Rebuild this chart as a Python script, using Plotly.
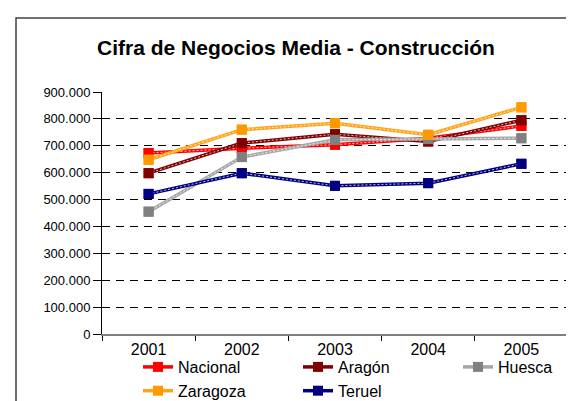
import plotly.graph_objects as go

years = ["2001", "2002", "2003", "2004", "2005"]
nacional = [673000, 691000, 704000, 728000, 774000]
aragon = [598000, 710000, 743000, 716000, 795000]
huesca = [455000, 658000, 722000, 725000, 728000]
zaragoza = [648000, 760000, 784000, 741000, 843000]
teruel = [521000, 598000, 551000, 561000, 633000]

series = [
    ("Nacional", nacional, "#FF0000", "#FF0000", "legend"),
    ("Aragón", aragon, "#800000", "#800000", "legend2"),
    ("Huesca", huesca, "#A6A6A6", "#808080", "legend3"),
    ("Zaragoza", zaragoza, "#FFA31A", "#FF9900", "legend"),
    ("Teruel", teruel, "#000080", "#000080", "legend2"),
]

FONT = "Arial, Liberation Sans, sans-serif"

fig = go.Figure()
for name, vals, lc, mc, lg in series:
    fig.add_trace(go.Scatter(
        x=years, y=vals, name=name, mode="lines+markers", legend=lg,
        line=dict(color=lc, width=3.5),
        marker=dict(symbol="square", size=10, color=mc),
    ))
    fig.add_trace(go.Scatter(
        x=years, y=vals, mode="lines", showlegend=False, hoverinfo="skip",
        line=dict(color="rgba(255,255,255,0.75)", width=1, dash="2px,2px"),
    ))
    fig.add_trace(go.Scatter(
        x=years, y=vals, mode="markers", showlegend=False, hoverinfo="skip",
        marker=dict(symbol="square", size=10, color=mc),
    ))

# chart frame (cropped on right and bottom)
fig.add_shape(type="rect", xref="paper", yref="paper",
              x0=(8 - 94) / 466, x1=2, y0=-2, y1=(325.7 - 10) / 241.7,
              line=dict(color="#404040", width=1.5))

def leg(xpx):
    return dict(orientation="v", xref="container", x=xpx / 574, xanchor="left",
                yref="container", y=1 - 342 / 401, yanchor="top",
                font=dict(size=16, family=FONT), tracegroupgap=0,
                bgcolor="rgba(0,0,0,0)")

fig.update_layout(
    width=574, height=401,
    margin=dict(l=94, r=14, t=84, b=75, autoexpand=False),
    paper_bgcolor="white", plot_bgcolor="white",
    separators=",.",
    font=dict(family=FONT, color="black"),
    title=dict(text="<b>Cifra de Negocios Media - Construcción</b>",
               x=288 / 574, xanchor="center", xref="container",
               y=1 - 39.5 / 401, yanchor="middle", yref="container",
               font=dict(size=21, family=FONT, color="black")),
    showlegend=True,
    legend=leg(130), legend2=leg(290), legend3=leg(450),
    xaxis=dict(type="category", showgrid=False, showline=True, linecolor="#808080",
               linewidth=2, ticks="outside", tickson="boundaries", ticklen=5,
               tickcolor="black", tickfont=dict(size=16, family=FONT),
               range=[-0.5, 4.5], fixedrange=True),
    yaxis=dict(range=[0, 900000], dtick=100000, tickformat=",.0f",
               showline=True, linecolor="black", linewidth=1,
               ticks="outside", ticklen=8, tickcolor="black",
               showgrid=True, gridcolor="black", gridwidth=1, griddash="8px,6px",
               zeroline=False, tickfont=dict(size=13, family=FONT)),
)

fig.write_html("out.html")
